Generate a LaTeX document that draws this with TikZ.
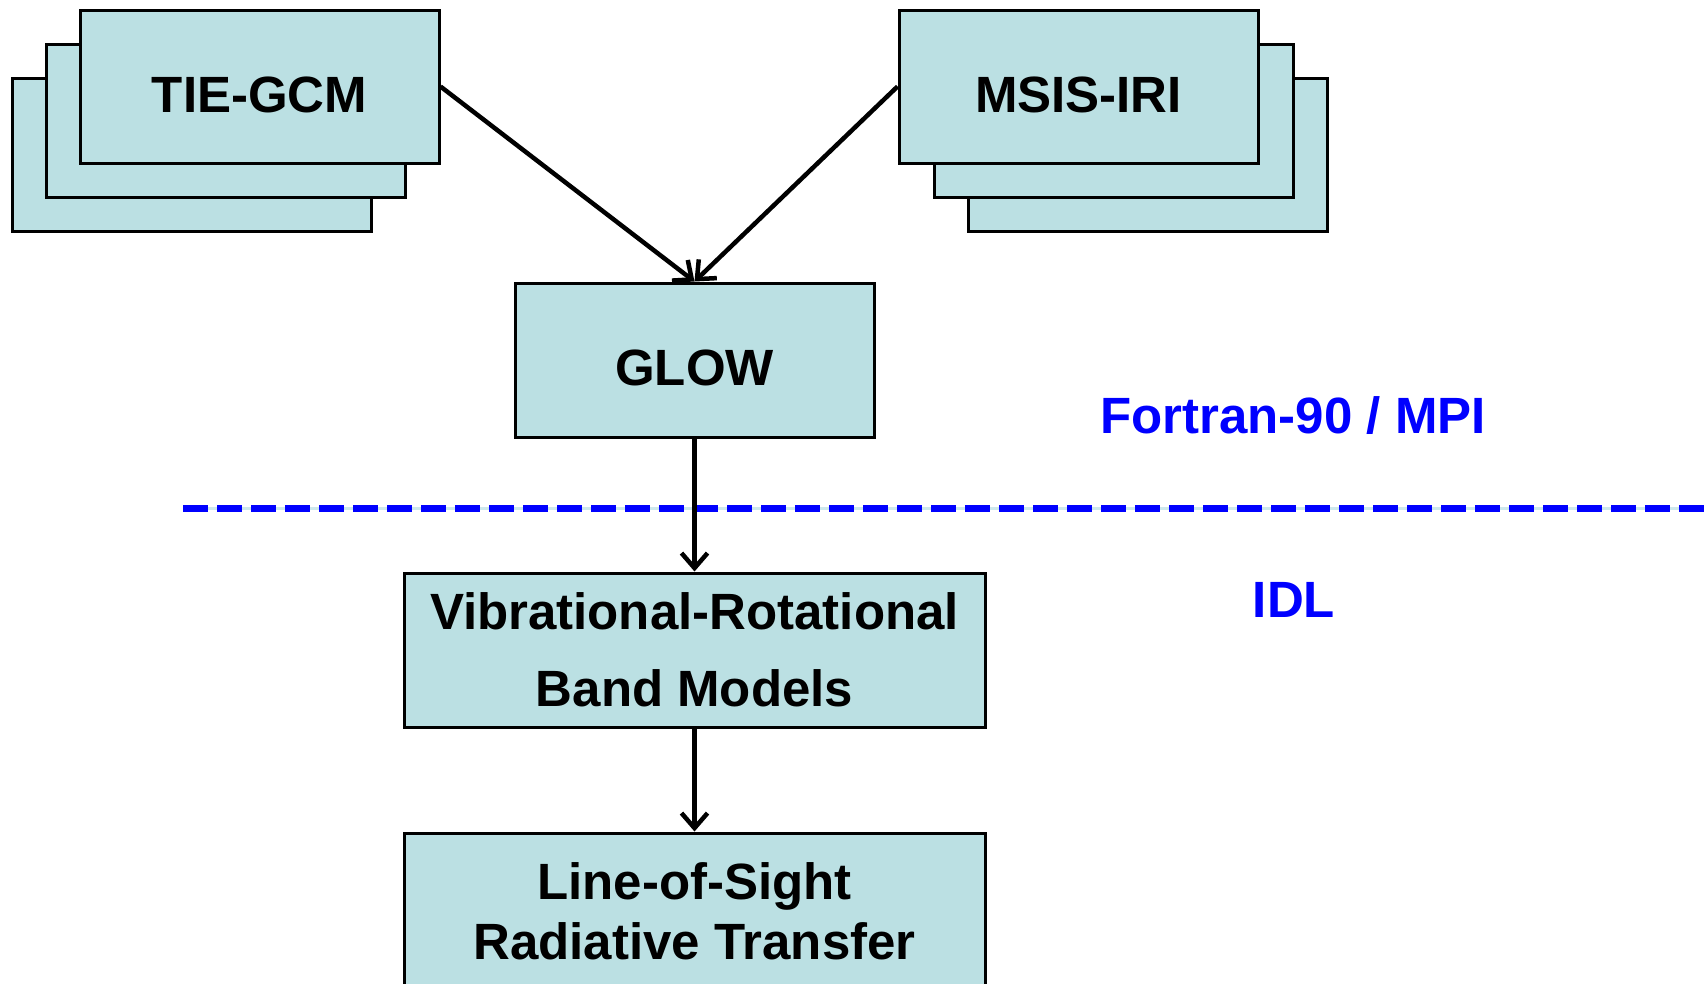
\documentclass[tikz,border=0pt]{standalone}
\usepackage{fontspec}
\setmainfont{Liberation Sans}
\usetikzlibrary{arrows.meta}
\definecolor{boxfill}{RGB}{187,224,227}
\definecolor{sepblue}{RGB}{0,0,255}
\definecolor{halo}{RGB}{205,232,236}
\begin{document}
\begin{tikzpicture}[x=1pt,y=-1pt,
  box/.style={draw=black, line width=3pt, fill=boxfill, inner sep=0pt,
              minimum width=359pt, minimum height=153pt},
  lbl/.style={font=\fontsize{51}{77}\selectfont\bfseries, anchor=base, inner sep=0pt},
  side/.style={lbl, text=sepblue},
  arr/.style={line width=4.5pt, -{Straight Barb[length=15pt,width=26pt]}}]
\path[use as bounding box, clip] (0,0) rectangle (1704,983);
\fill[white] (0,0) rectangle (1704,983);
% TIE-GCM stack
\node[box] (tie3) at (191.5,154.5) {};
\node[box] (tie2) at (225.5,120.5) {};
\node[box] (tie1) at (259.5,86.5) {};
\node[lbl] (tietxt) at (259.5,112) {TIE-GCM};
% MSIS-IRI stack
\node[box] (msis3) at (1147.5,154.5) {};
\node[box] (msis2) at (1113.5,120.5) {};
\node[box] (msis1) at (1078.5,86.5) {};
\node[lbl] (msistxt) at (1078.5,112) {MSIS-IRI};
% GLOW
\node[box, minimum height=154pt] (glow) at (694.5,360) {};
\node[lbl] (glowtxt) at (694.5,385) {GLOW};
% separator
\coordinate (dl) at (183,508);
\coordinate (dr) at (1710,508);
\draw[halo, line width=3pt] (dl) -- (dr);
\draw[sepblue, line width=7pt, dash pattern=on 25pt off 9pt] (dl) -- (dr);
\node[side] (fortran) at (1293,433) {Fortran-90 / MPI};
\node[side] (idl) at (1294,617) {IDL};
% lower boxes
\node[box, minimum width=581pt, minimum height=154pt] (vib) at (694.5,650) {};
\node[lbl] (vib1) at (694.5,629) {Vibrational-Rotational};
\node[lbl] (vib2) at (694.5,706) {Band Models};
\node[box, minimum width=581pt, minimum height=156pt] (los) at (694.5,911) {};
\node[lbl] (los1) at (694.5,899) {Line-of-Sight};
\node[lbl] (los2) at (694.5,959) {Radiative Transfer};
% connectors
\draw[arr] (tie1.east) -- (glow.north);
\draw[arr] (msis1.west) -- (glow.north);
\draw[arr] (glow.south) -- (vib.north);
\draw[arr] (vib.south) -- (los.north);
\end{tikzpicture}
\end{document}
